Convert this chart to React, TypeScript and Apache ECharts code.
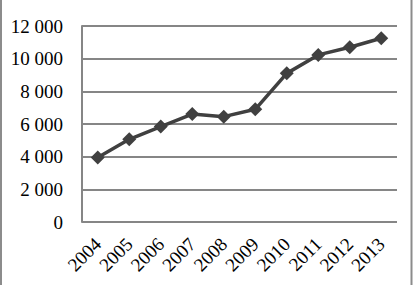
import React, { useEffect, useRef } from "react";
import * as echarts from "echarts";

const categories = ["2004", "2005", "2006", "2007", "2008", "2009", "2010", "2011", "2012", "2013"];
const values = [3950, 5060, 5840, 6610, 6450, 6900, 9100, 10230, 10700, 11250];

function fmt(v: number): string {
  const s = String(Math.round(v));
  return s.replace(/\B(?=(\d{3})+(?!\d))/g, " ");
}

export default function App() {
  const ref = useRef<HTMLDivElement>(null);
  useEffect(() => {
    if (!ref.current) return;
    const chart = echarts.init(ref.current, undefined, { renderer: "svg" });
    chart.setOption({
      animation: false,
      backgroundColor: "#ffffff",
      grid: { left: 82, right: 17, top: 26, bottom: 63, containLabel: false },
      xAxis: {
        type: "category",
        data: categories,
        boundaryGap: true,
        axisLine: { show: false },
        axisTick: { show: false },
        splitLine: { show: false },
        axisLabel: {
          interval: 0,
          rotate: 45,
          margin: 19,
          color: "#000",
          fontFamily: "Liberation Serif",
          fontSize: 19,
        },
      },
      yAxis: {
        type: "value",
        min: 0,
        max: 12000,
        interval: 2000,
        axisLine: { show: true, lineStyle: { color: "#868686", width: 2 } },
        axisTick: { show: false },
        splitLine: { show: true, lineStyle: { color: "#868686", width: 2 } },
        axisLabel: {
          margin: 19,
          color: "#000",
          fontFamily: "Liberation Serif",
          fontSize: 19,
          formatter: (v: number) => fmt(v),
        },
      },
      graphic: [
        { type: "line", shape: { x1: 1, y1: 0, x2: 1, y2: 285 }, style: { stroke: "#8c8c8c", lineWidth: 2 } },
        { type: "line", shape: { x1: 411.5, y1: 0, x2: 411.5, y2: 285 }, style: { stroke: "#8c8c8c", lineWidth: 2 } },
      ],
      series: [
        {
          type: "line",
          data: values,
          symbol: "diamond",
          symbolSize: 14,
          lineStyle: { color: "#404040", width: 3.5 },
          itemStyle: { color: "#404040" },
        },
      ],
    });
    return () => chart.dispose();
  }, []);
  return (
    <div
      ref={ref}
      style={{ position: "fixed", left: 0, top: 0, width: 414, height: 285 }}
    />
  );
}
